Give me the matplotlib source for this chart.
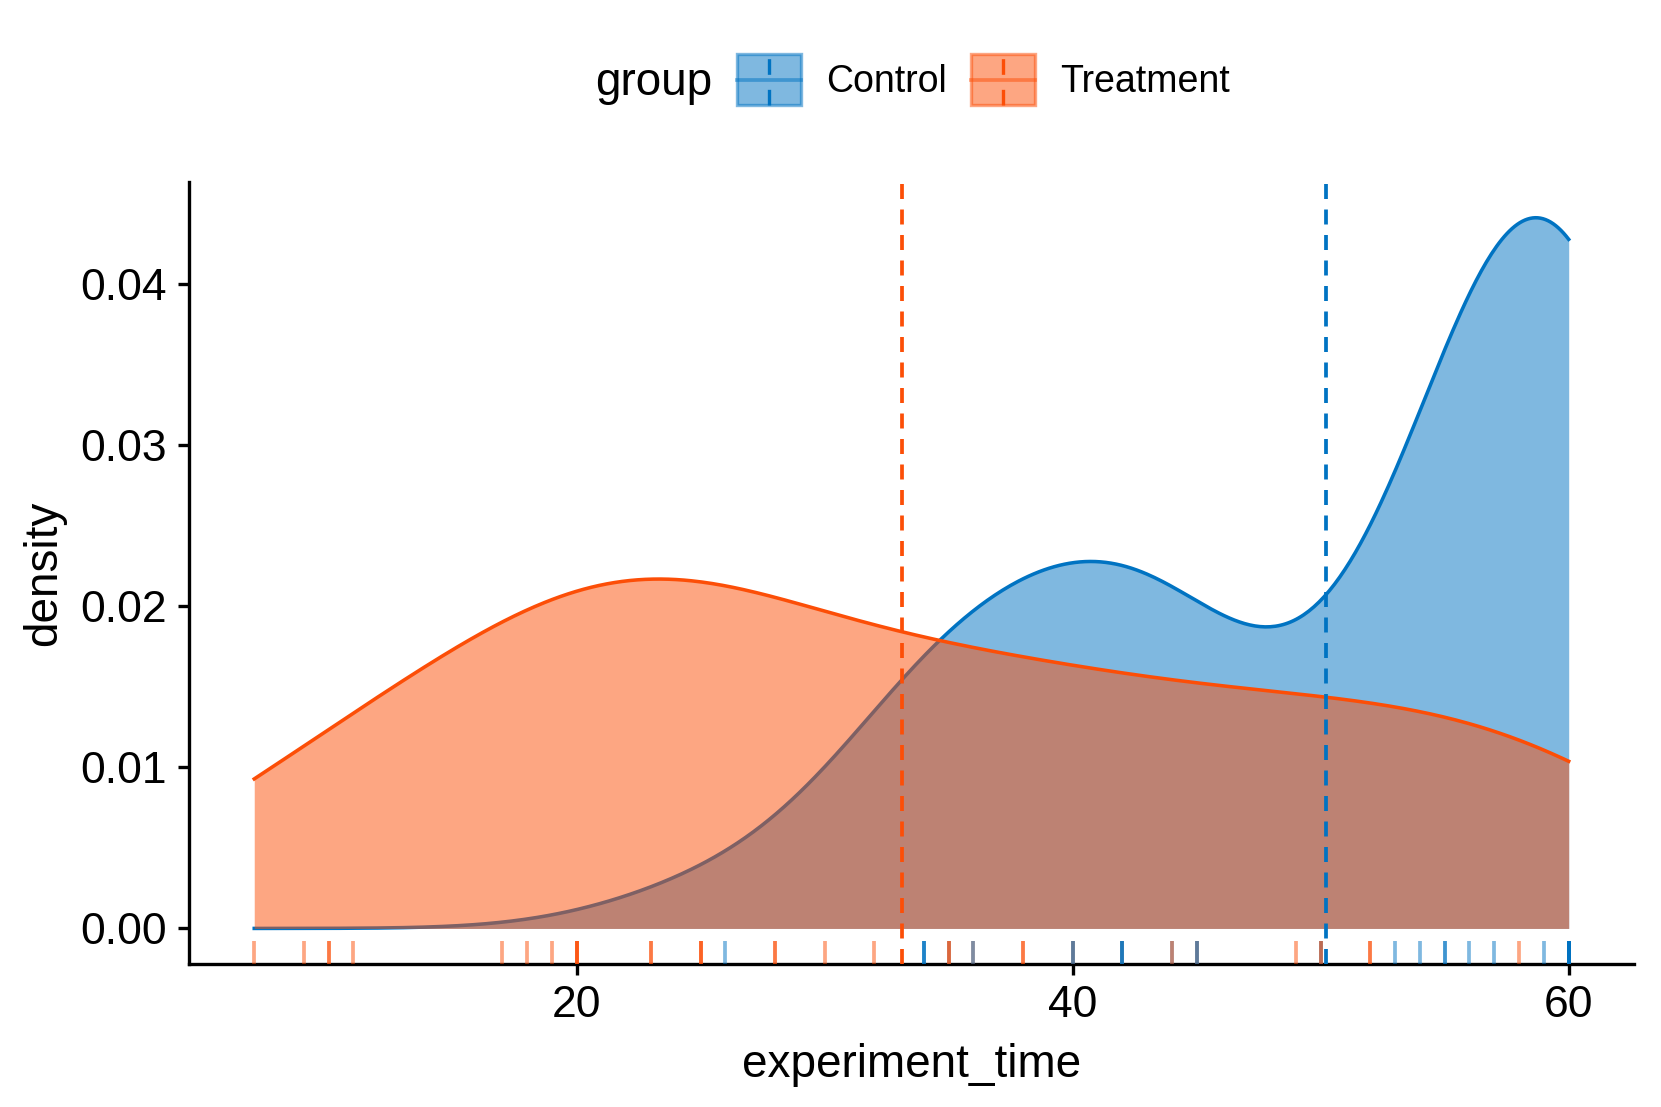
import numpy as np
import matplotlib
matplotlib.use("Agg")
import matplotlib.pyplot as plt
from matplotlib.collections import LineCollection
from matplotlib.legend_handler import HandlerBase
from matplotlib.patches import Patch, Rectangle
from matplotlib.lines import Line2D
from matplotlib.colors import to_rgba

plt.rcParams['font.family'] = ['Liberation Sans', 'DejaVu Sans']

# rows in data order (order matters for how the rug ticks overlap)
experiment_time = [7, 9, 10, 10, 11, 17, 18, 19, 20, 20, 20, 20, 23, 23,
                   25, 25, 25, 26, 28, 28, 30, 32, 34, 34, 34, 35, 35, 35,
                   36, 36, 38, 38, 40, 40, 40, 42, 42, 42, 42, 44, 44,
                   45, 45, 45, 49, 50, 50, 50, 52, 52, 53, 54, 55, 55,
                   56, 57, 58, 59,
                   60, 60, 60, 60, 60, 60, 60, 60, 60, 60, 60, 60, 60,
                   60, 60, 60, 60]
group = ['T', 'T', 'T', 'T', 'T', 'T', 'T', 'T', 'T', 'T', 'T', 'T', 'T', 'T',
         'T', 'T', 'T', 'C', 'T', 'T', 'T', 'T', 'C', 'C', 'C', 'C', 'T', 'T',
         'T', 'C', 'T', 'T', 'C', 'T', 'C', 'T', 'C', 'C', 'C', 'C', 'T',
         'C', 'T', 'C', 'T', 'T', 'C', 'T', 'T', 'T', 'C', 'C', 'C', 'C',
         'C', 'C', 'T', 'C',
         'T', 'T', 'T', 'T', 'C', 'C', 'C', 'C', 'C', 'C', 'C', 'C', 'C',
         'C', 'C', 'C', 'C']

group_names = {'C': 'Control', 'T': 'Treatment'}
colors = {'C': '#0073C2', 'T': '#FC4E07'}

times = np.array(experiment_time, dtype=float)
groups = np.array(group)


def bw_nrd0(x):
    # R's default bandwidth rule
    hi = np.std(x, ddof=1)
    q75, q25 = np.percentile(x, [75, 25])
    lo = min(hi, (q75 - q25) / 1.34)
    return 0.9 * lo * len(x) ** -0.2


def kde(x, grid):
    h = bw_nrd0(x)
    z = (grid[:, None] - x[None, :]) / h
    return np.exp(-0.5 * z ** 2).sum(axis=1) / (len(x) * h * np.sqrt(2 * np.pi))


grid = np.linspace(times.min(), times.max(), 512)

fig = plt.figure(figsize=(1661 / 300, 1107 / 300), dpi=300)
ax = fig.add_axes([0.1135, 0.1292, 0.8705, 0.7062])

# each group's fill and outline, Control first so Treatment sits on top
ymax = 0
for i, g in enumerate(['C', 'T']):
    x = times[groups == g]
    d = kde(x, grid)
    ymax = max(ymax, d.max())
    ax.fill_between(grid, d, color=colors[g], alpha=0.5, lw=0, zorder=1 + i)
    ax.plot(grid, d, color=colors[g], lw=0.85, zorder=1.5 + i)

for g in ['C', 'T']:
    ax.axvline(times[groups == g].mean(), color=colors[g], lw=0.9,
               ls=(0, (4, 2.8)), zorder=4)

# rug along the bottom, drawn row by row
segs = [[(t, 0), (t, 0.03)] for t in times]
rug = LineCollection(segs, colors=[to_rgba(colors[g], 0.5) for g in groups],
                     linewidths=0.9, transform=ax.get_xaxis_transform(),
                     zorder=5)
ax.add_collection(rug)

xr = times.max() - times.min()
ax.set_xlim(times.min() - 0.05 * xr, times.max() + 0.05 * xr)
ax.set_ylim(-0.05 * ymax, 1.05 * ymax)
ax.set_xticks([20, 40, 60])
ax.set_yticks([0, 0.01, 0.02, 0.03, 0.04])
ax.set_yticklabels(['0.00', '0.01', '0.02', '0.03', '0.04'])

for s in ['top', 'right']:
    ax.spines[s].set_visible(False)
for s in ['left', 'bottom']:
    ax.spines[s].set_linewidth(0.8)
ax.tick_params(labelsize=10.7, width=0.8, length=2.75, pad=2.4, colors='black')
ax.set_xlabel('experiment_time', fontsize=11, labelpad=4)
ax.set_ylabel('density', fontsize=11, labelpad=3.5)


class KeyHandler(HandlerBase):
    def create_artists(self, legend, orig_handle, xdescent, ydescent,
                       width, height, fontsize, trans):
        c = orig_handle.get_facecolor()[:3]
        x0, y0 = -xdescent, -ydescent
        rect = Rectangle((x0, y0), width, height, facecolor=to_rgba(c, 0.5),
                         edgecolor=to_rgba(c, 0.5), lw=0.8, transform=trans)
        hline = Line2D([x0, x0 + width], [y0 + height / 2] * 2,
                       color=to_rgba(c, 0.5), lw=0.9, transform=trans)
        vline = Line2D([x0 + width / 2] * 2, [y0, y0 + height], color=c,
                       lw=0.8, ls=(0, (4.7, 4.5)), transform=trans)
        return [rect, hline, vline]


handles = [Patch(color=colors[g]) for g in ['C', 'T']]
fig.legend(handles, [group_names[g] for g in ['C', 'T']],
           handler_map={Patch: KeyHandler()}, loc='center left',
           bbox_to_anchor=(0.4437, 0.928), ncol=2, frameon=False, fontsize=9,
           handlelength=1.7, handleheight=1.7, handletextpad=0.67,
           columnspacing=0.65, borderpad=0, borderaxespad=0)
fig.text(0.3582, 0.914, 'group', fontsize=11, va='baseline', ha='left')

fig.savefig('out.png', dpi=300)
